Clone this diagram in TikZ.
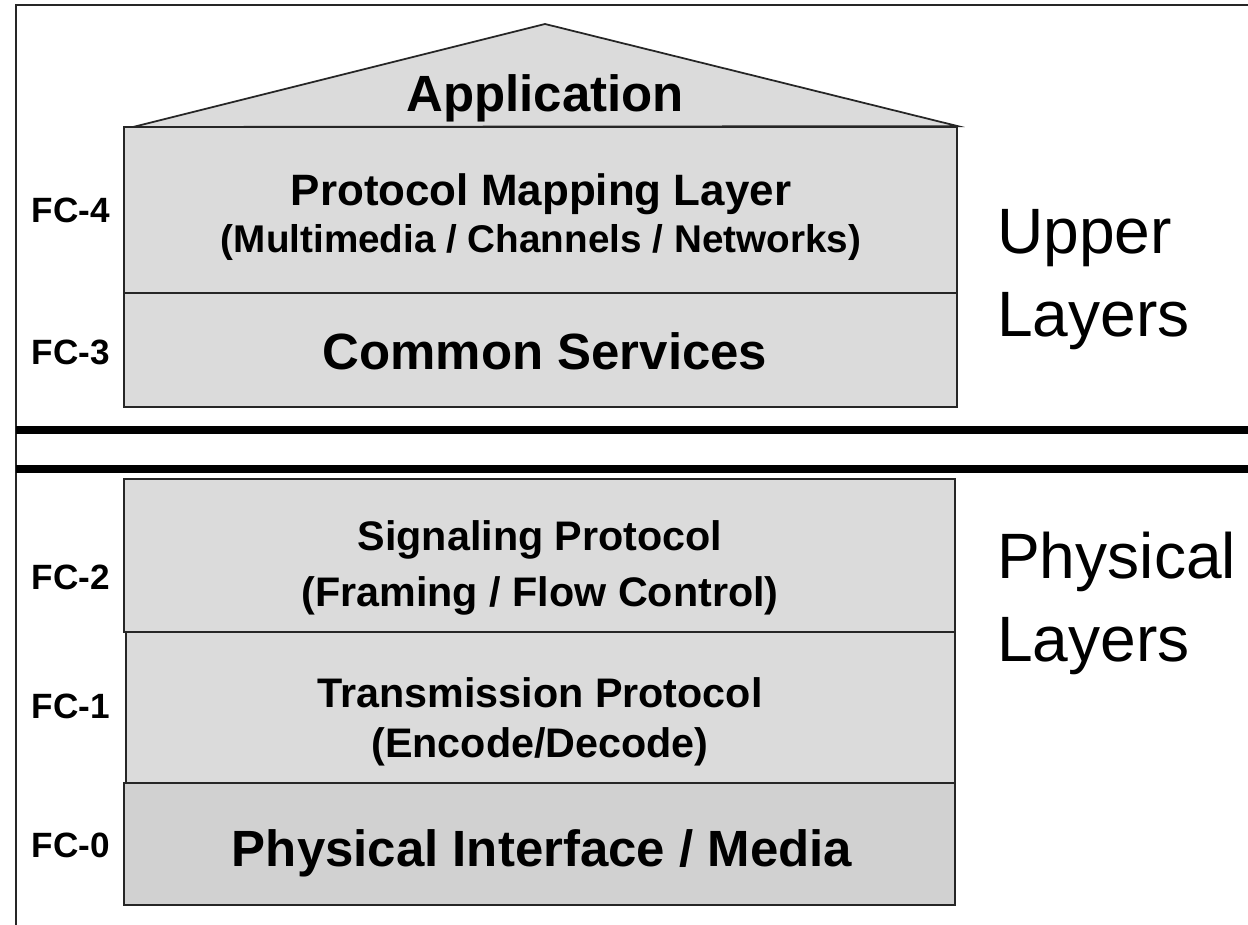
\documentclass[tikz,border=0pt]{standalone}
\usepackage{fontspec}
\setmainfont{Liberation Sans}
\definecolor{layergray}{gray}{0.86}
\definecolor{mediagray}{gray}{0.82}
\begin{document}
\begin{tikzpicture}[x=0.02cm, y=-0.02cm,
    layer/.style={draw=black!85, line width=1pt, fill=layergray, inner sep=0pt},
    frame/.style={draw=black!85, line width=1.1pt},
    bar/.style={draw=black, line width=4.5pt},
    title/.style={font=\bfseries\fontsize{29}{35}\selectfont, anchor=base},
    sub/.style={font=\bfseries, align=center, anchor=base},
    fc/.style={font=\bfseries\fontsize{20}{24}\selectfont, anchor=base},
    group/.style={font=\fontsize{36.5}{47.6}\selectfont, align=left, anchor=base west}]
    \useasboundingbox (0,0) rectangle (1248,925);

    \draw[frame] (16,925) -- (16,5) -- (1248,5);

    \node[layer, minimum width=16.66cm, minimum height=3.32cm] (FC4) at (540.5,210) {};
    \node[layer, minimum width=16.66cm, minimum height=2.28cm] (FC3) at (540.5,350) {};
    \coordinate (RL) at (133,127);
    \coordinate (RT) at (545,24);
    \filldraw[layer] (RL) -- (RT) -- (FC4.north east) -- cycle;

    \draw[bar] (16,430) -- (1248,430);
    \draw[bar] (16,469) -- (1248,469);

    \node[layer, minimum width=16.62cm, minimum height=3.06cm] (FC2) at (539.5,555.5) {};
    \node[layer, minimum width=16.58cm, minimum height=3.02cm] (FC1) at (540.5,707.5) {};
    \node[layer, fill=mediagray, minimum width=16.62cm, minimum height=2.44cm] (FC0) at (539.5,844) {};

    \node[title] (app) at (545,112) {Application};
    \node[sub, font=\bfseries\fontsize{25}{27.2}\selectfont] (map) at (541,253)
        {Protocol Mapping Layer\\{\fontsize{22}{27.2}\selectfont (Multimedia / Channels / Networks)}};
    \node[title] (cs) at (545,370) {Common Services};
    \node[sub, font=\bfseries\fontsize{23.5}{32.3}\selectfont] (sig) at (540,607)
        {Signaling Protocol\\(Framing / Flow Control)};
    \node[sub, font=\bfseries\fontsize{23.5}{28.3}\selectfont] (tx) at (540,757)
        {Transmission Protocol\\(Encode/Decode)};
    \node[title] (phy) at (542,866) {Physical Interface / Media};

    \node[fc] (l4) at (71,223) {FC-4};
    \node[fc] (l3) at (71,365) {FC-3};
    \node[fc] (l2) at (71,590) {FC-2};
    \node[fc] (l1) at (71,719) {FC-1};
    \node[fc] (l0) at (71,857) {FC-0};

    \node[group] (upper) at (991,337) {Upper\\Layers};
    \node[group] (physical) at (991,662) {Physical\\Layers};
\end{tikzpicture}
\end{document}
